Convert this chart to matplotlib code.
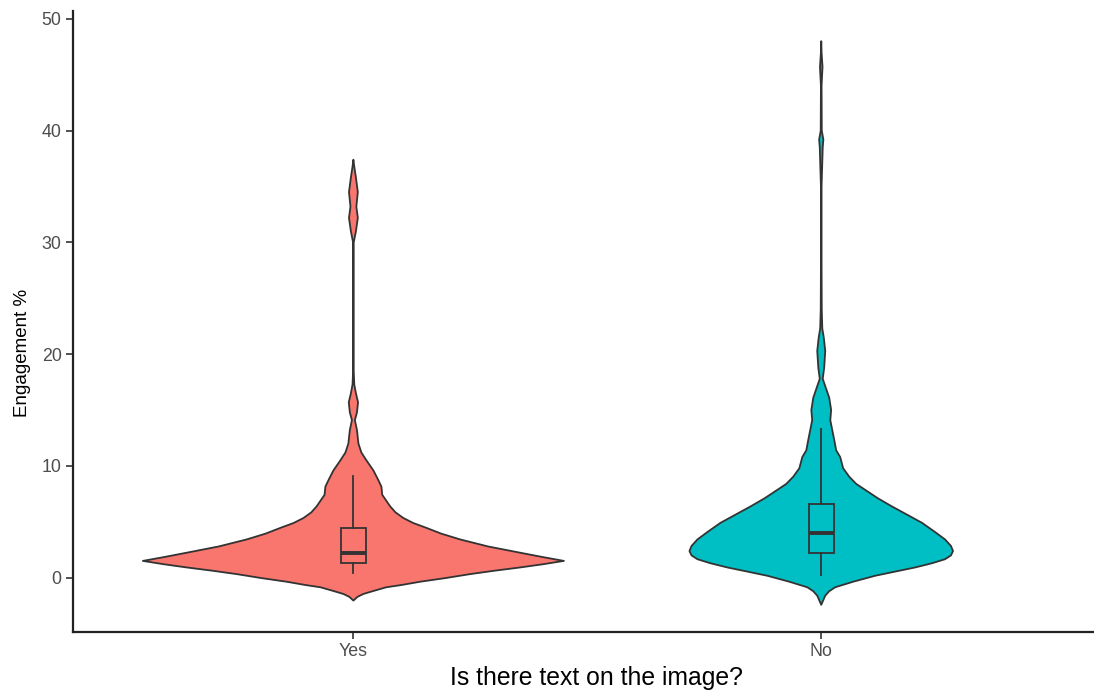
import numpy as np
import matplotlib.pyplot as plt

plt.rcParams['font.family'] = ['Liberation Sans', 'DejaVu Sans']

# categories and colours (ggplot default hues)
groups = ["Yes", "No"]
fills = ["#F8766D", "#00BFC4"]

# violin outlines: engagement value vs relative density
yes_y = [-2.04, -1.71, -1.45, -1.18, -0.85, -0.65, -0.35, -0.03, 0.33, 0.64, 0.92, 1.21,
         1.51, 1.85, 2.25, 2.8, 3.43, 3.95, 4.47, 4.9, 5.35, 5.85, 6.38, 7.42, 8.16,
         8.9, 9.6, 10.5, 11.2, 12.0, 13.2, 14.1, 14.8, 15.7, 16.5, 17.3, 18.5, 25.0,
         30.0, 31.0, 32.2, 33.2, 34.5, 35.8, 36.8, 37.4]
yes_dens = [0.0, 0.019, 0.047, 0.095, 0.156, 0.227, 0.318, 0.436, 0.555, 0.673, 0.79, 0.9,
            1.0, 0.9, 0.79, 0.64, 0.507, 0.417, 0.346, 0.284, 0.237, 0.2, 0.175, 0.137, 0.133,
            0.114, 0.095, 0.062, 0.038, 0.024, 0.017, 0.007, 0.017, 0.022, 0.012, 0.004, 0.0015, 0.001,
            0.0015, 0.012, 0.021, 0.014, 0.021, 0.012, 0.004, 0.0]

no_y = [-2.42, -1.6, -1.2, -0.85, -0.35, 0.18, 0.55, 0.92, 1.3, 1.66, 2.0, 2.39,
        2.85, 3.43, 4.1, 4.91, 5.6, 6.38, 7.1, 7.86, 8.4, 9.04, 9.8, 10.8, 11.4,
        12.3, 14.1, 15.0, 16.1, 17.8, 18.8, 20.3, 21.5, 22.3, 24.0, 28.0, 35.0,
        38.5, 39.2, 40.0, 44.0, 45.7, 47.0, 48.0]
no_dens = [0.0, 0.019, 0.038, 0.066, 0.152, 0.256, 0.35, 0.445, 0.526, 0.588, 0.616, 0.626,
           0.616, 0.588, 0.54, 0.479, 0.412, 0.336, 0.27, 0.209, 0.166, 0.133, 0.104, 0.09, 0.071,
           0.062, 0.043, 0.047, 0.038, 0.007, 0.014, 0.019, 0.012, 0.005, 0.0024, 0.0015, 0.0015,
           0.007, 0.01, 0.0025, 0.0015, 0.006, 0.0015, 0.0]

# boxplot summaries: whisker low, Q1, median, Q3, whisker high
yes_box = [0.42, 1.30, 2.25, 4.47, 9.1]
no_box = [0.27, 2.19, 4.02, 6.62, 13.27]

edge = "#333333"
fig = plt.figure(figsize=(10.94, 6.9), dpi=100)
ax = fig.add_axes([72.7 / 1094, 1 - 632 / 690, (1094 - 72.7) / 1094, (632 - 11) / 690])

profiles = [(yes_y, yes_dens), (no_y, no_dens)]
for i, (yy, dd) in enumerate(profiles):
    pos = i + 1
    yy = np.array(yy)
    hw = np.array(dd) * 0.45
    xs = np.concatenate([pos + hw, (pos - hw)[::-1]])
    ys = np.concatenate([yy, yy[::-1]])
    ax.fill(xs, ys, facecolor=fills[i], edgecolor=edge, lw=1.3, joinstyle='round', zorder=2)

stats = []
for b in [yes_box, no_box]:
    stats.append(dict(whislo=b[0], q1=b[1], med=b[2], q3=b[3], whishi=b[4], fliers=[]))
bp = ax.bxp(stats, positions=[1, 2], widths=0.053, patch_artist=True,
            showfliers=False, showcaps=False,
            boxprops=dict(edgecolor=edge, lw=1.3),
            medianprops=dict(color=edge, lw=2.8, solid_capstyle='butt'),
            whiskerprops=dict(color=edge, lw=1.3), zorder=3)
for patch, c in zip(bp['boxes'], fills):
    patch.set_facecolor(c)

ax.set_xlim(0.4, 2.583)
ax.set_ylim(-4.85, 50.7)
ax.set_xticks([1, 2])
ax.set_xticklabels(groups)
ax.set_yticks([0, 10, 20, 30, 40, 50])

for s in ["top", "right"]:
    ax.spines[s].set_visible(False)
for s in ["left", "bottom"]:
    ax.spines[s].set_color("#222222")
    ax.spines[s].set_linewidth(1.6)
ax.tick_params(length=5, width=1.2, color="#333333", labelcolor="#4D4D4D",
               labelsize=12.8, pad=3)

ax.set_xlabel("Is there text on the image?", fontsize=17.8, color="black")
ax.xaxis.set_label_coords(0.513, -0.0853)
ax.xaxis.label.set_va("baseline")
ax.set_ylabel("Engagement %", fontsize=13.5, color="black")
ax.yaxis.set_label_coords(-0.0487, 0.449)
ax.yaxis.label.set_va("center")

fig.savefig("out.png", dpi=100)
